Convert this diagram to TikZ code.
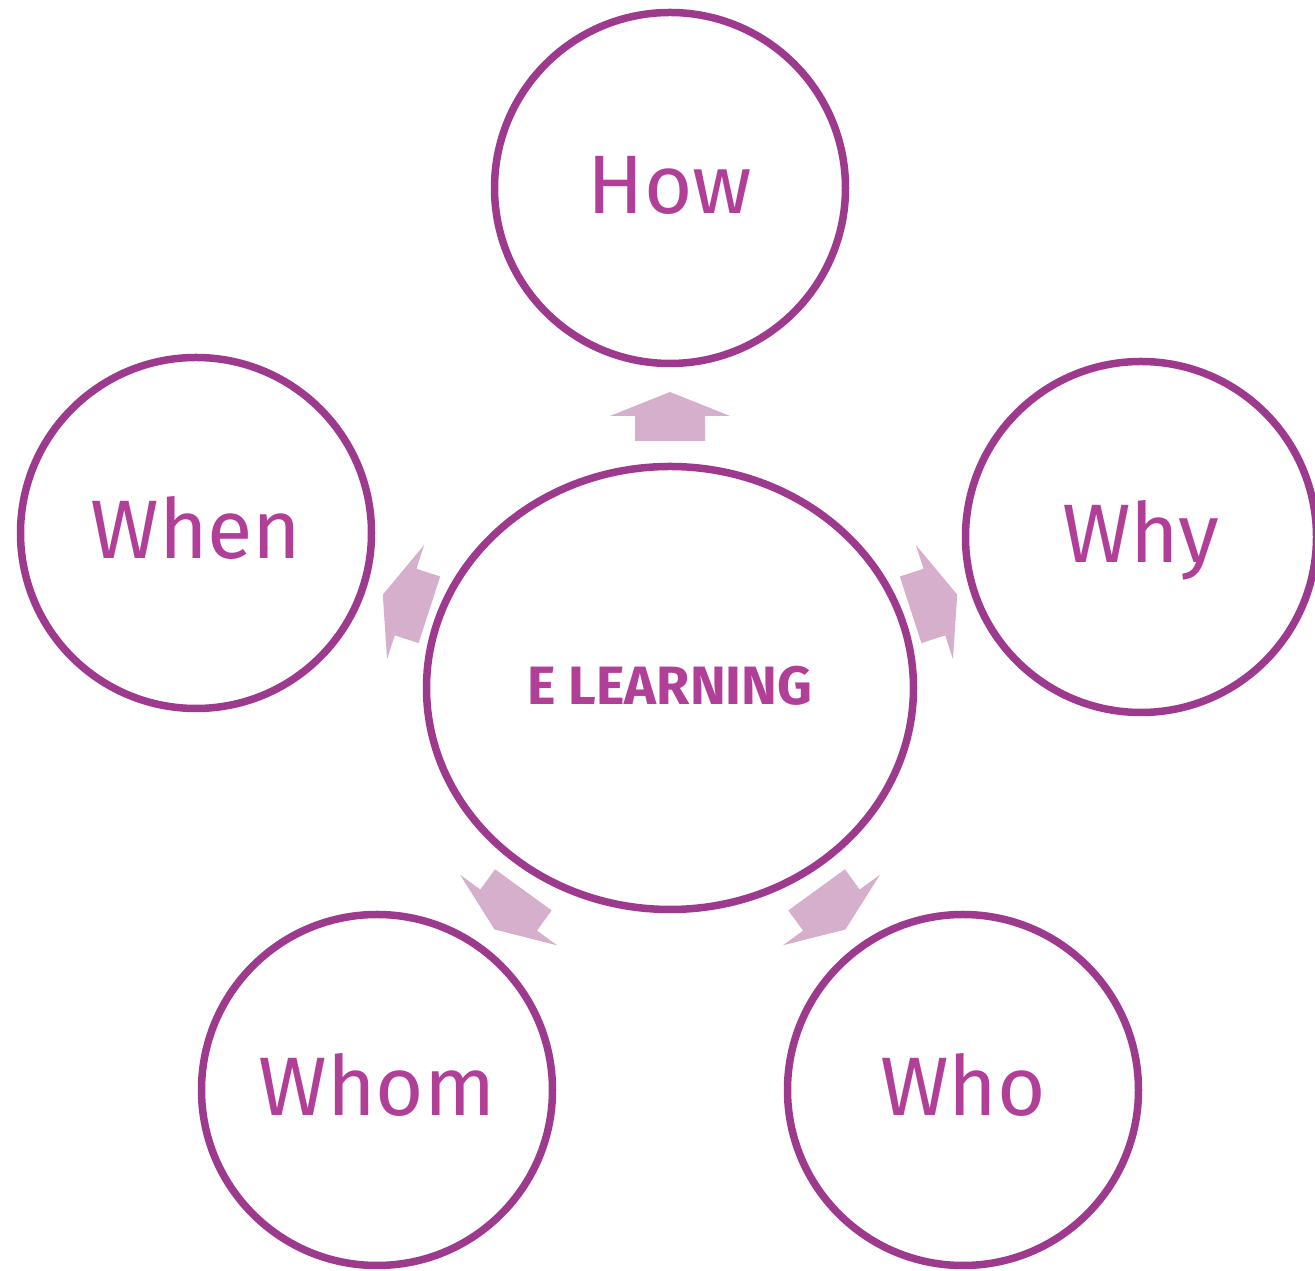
\documentclass[tikz,border=0pt]{standalone}
\usepackage{fontspec}
\setmainfont{Fira Sans}
\usetikzlibrary{shapes.geometric}
\definecolor{ringcol}{HTML}{9E3A8E}
\definecolor{txtcol}{HTML}{B13F98}
\definecolor{arrowcol}{HTML}{D5AFCB}
% #1 = direction angle, #2 = radial offset
\newcommand\blockarr[2]{%
  \fill[arrowfill, shift={(c.center)}, rotate=#1, xshift=#2pt]
    (247,-35) -- (272,-35) -- (272,-60) -- (296,0) -- (272,60) -- (272,35) -- (247,35) -- cycle;}
\begin{document}
\begin{tikzpicture}[x=1pt,y=1pt,
  bubble/.style={circle, draw=ringcol, line width=7.5pt, fill=white, minimum size=351pt, inner sep=0pt,
    text=txtcol, font=\fontsize{83}{90}\selectfont, text height=57pt, text depth=6pt},
  hub/.style={ellipse, draw=ringcol, line width=7.5pt, fill=white, minimum width=487pt, minimum height=443pt,
    inner sep=0pt, text=txtcol, font=\fontsize{54}{60}\selectfont\bfseries, text height=38pt, text depth=5pt},
  arrowfill/.style={fill=arrowcol}]
\useasboundingbox (0,0) rectangle (1315,1271);
\node[hub] (c) at (670,583) {E LEARNING};
\node[bubble] (how) at (670,1083) {How};
\node[bubble] (when) at (196,738) {When};
\node[bubble] (why) at (1141,734) {Why};
\node[bubble] (whom) at (377,181) {Whom};
\node[bubble] (who) at (963,181) {Who};
\blockarr{90}{0}
\blockarr{162}{6}
\blockarr{18}{6}
\blockarr{234}{2.5}
\blockarr{306}{2.5}
\end{tikzpicture}
\end{document}
